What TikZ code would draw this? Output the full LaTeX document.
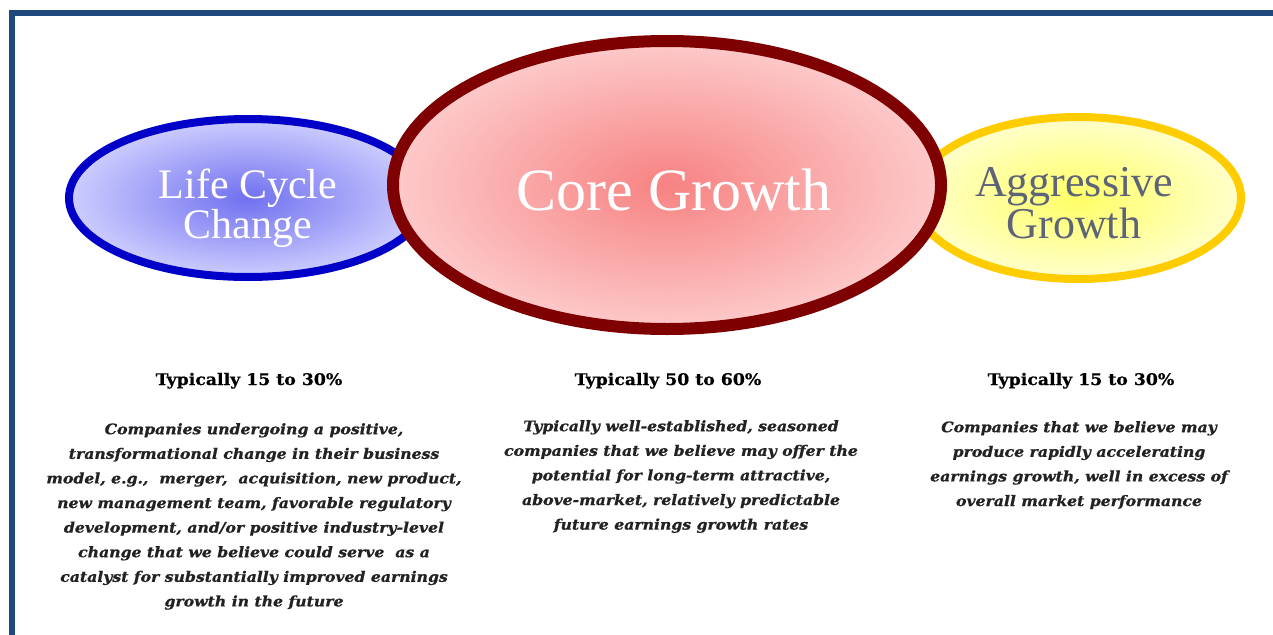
\documentclass[tikz,border=0pt]{standalone}
\usepackage{fontspec}
\setmainfont{Liberation Serif}
\newfontfamily\hdrfont[FakeStretch=1.08,FakeBold=0.6]{DejaVu Serif}
\newfontfamily\bodyfont[FakeStretch=1.08,FakeBold=0.8]{DejaVu Serif}
\usetikzlibrary{shapes.geometric}
\definecolor{framecol}{HTML}{1F497D}
\definecolor{bluedge}{HTML}{0000C8}
\definecolor{bluein}{HTML}{7070F0}
\definecolor{blueout}{HTML}{CDCDFF}
\definecolor{rededge}{HTML}{7F0000}
\definecolor{redin}{HTML}{F78282}
\definecolor{redout}{HTML}{FDCACA}
\definecolor{yeledge}{HTML}{FFCC00}
\definecolor{yelin}{HTML}{FFFF66}
\definecolor{yelout}{HTML}{FFFFCC}
\definecolor{agrtext}{HTML}{5E6478}
\definecolor{bodytext}{HTML}{222222}
\tikzset{
  bubble/.style={ellipse, draw, inner sep=0pt, outer sep=0pt},
  title/.style={font=\fontsize{42}{40}\selectfont, align=center, inner sep=0pt},
  header/.style={font=\hdrfont\bfseries\fontsize{16}{18}\selectfont, inner sep=0pt, anchor=base},
  body/.style={font=\bodyfont\bfseries\itshape\fontsize{14.5}{24.6}\selectfont, align=center, inner sep=0pt, anchor=north, text=bodytext},
}
\begin{document}
\begin{tikzpicture}[x=1pt,y=-1pt]
\useasboundingbox (0,0) rectangle (1273,634);
\fill[white] (0,0) rectangle (1273,634);
% frame
\draw[framecol, line width=6pt, line join=miter] (12,640) -- (12,13.5) -- (1280,13.5);
% bubbles
\node[bubble, line width=8pt, draw=bluedge, inner color=bluein, outer color=blueout,
      minimum width=358pt, minimum height=158pt] (life) at (248,198) {};
\node[bubble, line width=8pt, draw=yeledge, inner color=yelin, outer color=yelout,
      minimum width=326pt, minimum height=162pt] (aggr) at (1078,198) {};
\node[bubble, line width=12pt, draw=rededge, inner color=redin, outer color=redout,
      minimum width=548pt, minimum height=288pt] (core) at (667,185) {};
% titles
\node[title, text=white] (lifet) at (248,208) {Life Cycle\\Change};
\node[title, text=white, font=\fontsize{60}{60}\selectfont, anchor=base] (coret) at (674,210) {Core Growth};
\node[title, text=agrtext, font=\fontsize{44}{42}\selectfont] (aggrt) at (1074,203) {Aggressive\\Growth};
% headers
\node[header] (lifeh) at (249,385) {Typically 15 to 30\%};
\node[header] (coreh) at (668,385) {Typically 50 to 60\%};
\node[header] (aggrh) at (1081,385) {Typically 15 to 30\%};
% bodies
\node[body] (lifeb) at (254,423) {Companies undergoing a positive,\\
transformational change in their business\\
model, e.g.,~ merger,~ acquisition, new product,\\
new management team, favorable regulatory\\
development, and/or positive industry-level\\
change that we believe could serve~ as a\\
catalyst for substantially improved earnings\\
growth in the future};
\node[body] (coreb) at (681,420) {Typically well-established, seasoned\\
companies that we believe may offer the\\
potential for long-term attractive,\\
above-market, relatively predictable\\
future earnings growth rates};
\node[body] (aggrb) at (1079,421) {Companies that we believe may\\
produce rapidly accelerating\\
earnings growth, well in excess of\\
overall market performance};
\end{tikzpicture}
\end{document}
